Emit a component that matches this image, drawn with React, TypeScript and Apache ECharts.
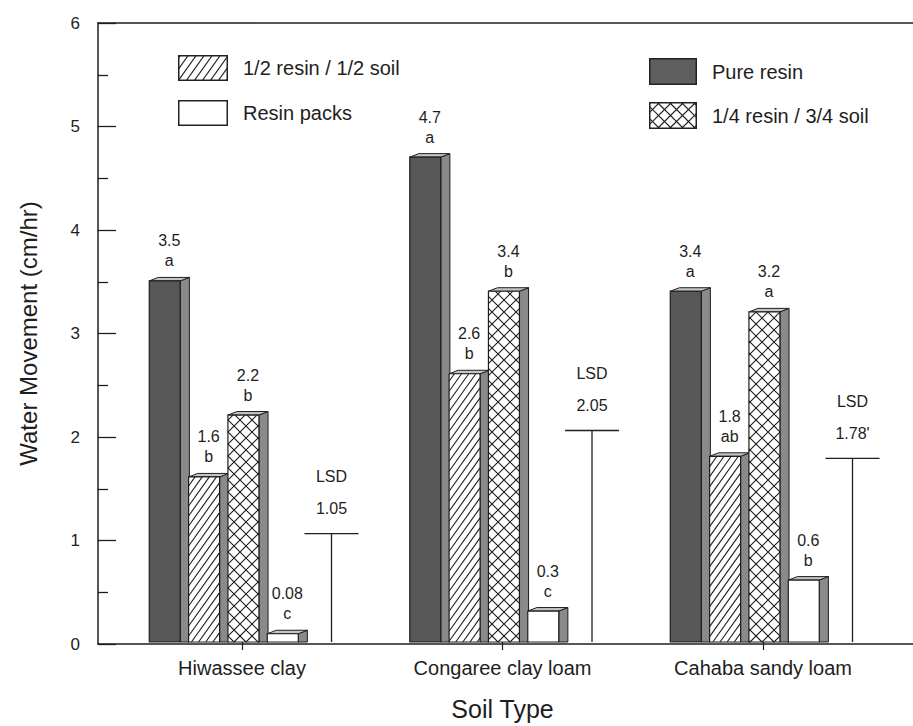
import React, { useEffect, useRef } from "react";
import * as echarts from "echarts";

// ---------------- data ----------------
const soils = ["Hiwassee clay", "Congaree clay loam", "Cahaba sandy loam"];
const seriesNames = ["Pure resin", "1/2 resin / 1/2 soil", "1/4 resin / 3/4 soil", "Resin packs"];
const pureResin = [3.5, 4.7, 3.4];
const halfResin = [1.6, 2.6, 1.8];
const quarterResin = [2.2, 3.4, 3.2];
const resinPacks = [0.08, 0.3, 0.6];
const pureLetters = ["a", "a", "a"];
const halfLetters = ["b", "b", "ab"];
const quarterLetters = ["b", "b", "a"];
const packsLetters = ["c", "c", "b"];
const lsdValues = [1.05, 2.05, 1.78];
const lsdLabels = ["1.05", "2.05", "1.78'"];
const yTicks = [0, 1, 2, 3, 4, 5, 6];

// ---------------- style ----------------
const FONT = '"Liberation Sans", Arial, Helvetica, sans-serif';
const INK = "#1e1e1e";
const SIDE = "#8a8a8a";
const TOPF = "#c4c4c4";
const PURE = "#575757";
const START = -0.356;
const PITCH = 0.151;
const FRONT = 0.119;
const DEPTH = 0.035;
const DY = 3.5;

const Hatch = echarts.graphic.extendShape({
  shape: { x: 0, y: 0, width: 0, height: 0, step: 10, slope: 1, dir: 1 },
  buildPath(ctx: any, s: any) {
    const x0 = s.x, x1 = s.x + s.width, y0 = s.y, y1 = s.y + s.height;
    const m = s.slope, st = s.step;
    if (s.width <= 0 || s.height <= 0) return;
    if (s.dir === 1) {
      const cMin = m * x0 + y0, cMax = m * x1 + y1;
      for (let c = Math.ceil(cMin / st) * st; c <= cMax; c += st) {
        const xa = Math.max(x0, (c - y1) / m);
        const xb = Math.min(x1, (c - y0) / m);
        if (xb > xa) {
          ctx.moveTo(xa, c - m * xa);
          ctx.lineTo(xb, c - m * xb);
        }
      }
    } else {
      const cMin = y0 - m * x1, cMax = y1 - m * x0;
      for (let c = Math.ceil(cMin / st) * st; c <= cMax; c += st) {
        const xa = Math.max(x0, (y0 - c) / m);
        const xb = Math.min(x1, (y1 - c) / m);
        if (xb > xa) {
          ctx.moveTo(xa, m * xa + c);
          ctx.lineTo(xb, m * xb + c);
        }
      }
    }
  },
});
echarts.graphic.registerShape("hatch", Hatch);

function svgIcon(w: number, h: number, sw: number, sh: number, kind: string) {
  let fill = "#ffffff";
  let lines = "";
  if (kind === "pure") fill = "#5e5e5e";
  if (kind === "half") {
    for (let c = -40; c < w + 40; c += 8) {
      lines += `<line x1="${c}" y1="${sh}" x2="${c + sh / 1.4}" y2="0"/>`;
    }
  }
  if (kind === "quarter") {
    for (let c = -40; c < w + 40; c += 12) {
      lines += `<line x1="${c}" y1="${sh}" x2="${c + sh}" y2="0"/>`;
      lines += `<line x1="${c}" y1="0" x2="${c + sh}" y2="${sh}"/>`;
    }
  }
  const svg =
    `<svg xmlns="http://www.w3.org/2000/svg" width="${w}" height="${h}" viewBox="0 0 ${w} ${h}">` +
    `<defs><clipPath id="c"><rect x="0.75" y="0.75" width="${sw - 1.5}" height="${sh - 1.5}"/></clipPath></defs>` +
    `<rect x="0.75" y="0.75" width="${sw - 1.5}" height="${sh - 1.5}" fill="${fill}" stroke="#222" stroke-width="1.5"/>` +
    `<g clip-path="url(#c)" stroke="#222" stroke-width="1.2">${lines}</g></svg>`;
  return "image://data:image/svg+xml;charset=utf-8," + encodeURIComponent(svg);
}

function makeBarRender(j: number, kind: string, letters: string[]) {
  return (params: any, api: any) => {
    const ci = api.value(0);
    const v = api.value(1);
    const base = api.coord([ci, 0]);
    const topP = api.coord([ci, v]);
    const bw = api.size([1, 0])[0];
    const x0 = base[0] + bw * START + j * bw * PITCH;
    const fw = bw * FRONT;
    const d = bw * DEPTH;
    const yb = base[1];
    const yt = topP[1];
    const children: any[] = [];
    children.push({
      type: "polygon",
      shape: { points: [[x0 + fw, yb], [x0 + fw, yt], [x0 + fw + d, yt - DY], [x0 + fw + d, yb]] },
      style: { fill: SIDE, stroke: INK, lineWidth: 1 },
    });
    children.push({
      type: "polygon",
      shape: { points: [[x0, yt], [x0 + d, yt - DY], [x0 + fw + d, yt - DY], [x0 + fw, yt]] },
      style: { fill: TOPF, stroke: INK, lineWidth: 1 },
    });
    children.push({
      type: "rect",
      shape: { x: x0, y: yt, width: fw, height: yb - yt },
      style: { fill: kind === "pure" ? PURE : "#ffffff", stroke: INK, lineWidth: 1.2 },
    });
    if (kind === "half") {
      children.push({
        type: "hatch",
        shape: { x: x0, y: yt, width: fw, height: yb - yt, step: 10, slope: 1.4, dir: 1 },
        style: { fill: "none", stroke: INK, lineWidth: 1.1 },
      });
    }
    if (kind === "quarter") {
      children.push({
        type: "hatch",
        shape: { x: x0, y: yt, width: fw, height: yb - yt, step: 12, slope: 1, dir: 1 },
        style: { fill: "none", stroke: INK, lineWidth: 1.1 },
      });
      children.push({
        type: "hatch",
        shape: { x: x0, y: yt, width: fw, height: yb - yt, step: 12, slope: 1, dir: -1 },
        style: { fill: "none", stroke: INK, lineWidth: 1.1 },
      });
    }
    const lx = x0 + (fw + d) / 2;
    children.push({
      type: "text",
      x: lx,
      y: yt - 40,
      style: { text: String(v), fill: INK, font: `16px ${FONT}`, align: "center", verticalAlign: "middle" },
    });
    children.push({
      type: "text",
      x: lx,
      y: yt - 20,
      style: { text: letters[params.dataIndex], fill: INK, font: `16px ${FONT}`, align: "center", verticalAlign: "middle" },
    });
    return { type: "group", children };
  };
}

function lsdRender(params: any, api: any) {
  const ci = api.value(0);
  const v = api.value(1);
  const base = api.coord([ci, 0]);
  const topP = api.coord([ci, v]);
  const bw = api.size([1, 0])[0];
  const x = base[0] + bw * 0.3436;
  const yt = topP[1];
  return {
    type: "group",
    children: [
      { type: "line", shape: { x1: x, y1: base[1], x2: x, y2: yt }, style: { stroke: INK, lineWidth: 1.3 } },
      { type: "line", shape: { x1: x - 27, y1: yt, x2: x + 27, y2: yt }, style: { stroke: INK, lineWidth: 1.3 } },
      {
        type: "text",
        x: x,
        y: yt - 25,
        style: { text: lsdLabels[params.dataIndex], fill: INK, font: `16px ${FONT}`, align: "center", verticalAlign: "middle" },
      },
      {
        type: "text",
        x: x,
        y: yt - 57,
        style: { text: "LSD", fill: INK, font: `16px ${FONT}`, align: "center", verticalAlign: "middle" },
      },
    ],
  };
}

const toData = (arr: number[]) => arr.map((v, i) => [i, v]);

export default function App() {
  const ref = useRef<HTMLDivElement>(null);
  useEffect(() => {
    if (!ref.current) return;
    const chart = echarts.init(ref.current, undefined, { renderer: "svg" });
    const axisLineStyle = { color: INK, width: 1.5 };
    const option: any = {
      animation: false,
      backgroundColor: "#ffffff",
      textStyle: { fontFamily: FONT },
      grid: [
        { left: 98, right: 0, top: 23, bottom: 82 },
        { left: 111.75, right: 19.75, top: 23, bottom: 82 },
      ],
      legend: [
        {
          left: 178,
          top: 55,
          orient: "vertical",
          itemWidth: 60,
          itemHeight: 26,
          itemGap: 19,
          padding: 0,
          selectedMode: false,
          textStyle: { fontSize: 20, color: INK, fontFamily: FONT },
          data: [
            { name: seriesNames[1], icon: svgIcon(60, 26, 50, 26, "half") },
            { name: seriesNames[3], icon: svgIcon(60, 26, 50, 26, "packs") },
          ],
        },
        {
          left: 649,
          top: 58,
          orient: "vertical",
          itemWidth: 58,
          itemHeight: 27,
          itemGap: 17,
          padding: 0,
          selectedMode: false,
          textStyle: { fontSize: 20, color: INK, fontFamily: FONT },
          data: [
            { name: seriesNames[0], icon: svgIcon(58, 27, 48, 27, "pure") },
            { name: seriesNames[2], icon: svgIcon(58, 27, 48, 27, "quarter") },
          ],
        },
      ],
      xAxis: [
        {
          type: "value",
          gridIndex: 0,
          min: 0,
          max: 1,
          position: "bottom",
          axisLine: { show: true, onZero: false, lineStyle: axisLineStyle },
          axisTick: { show: false },
          axisLabel: { show: false },
          splitLine: { show: false },
        },
        {
          type: "value",
          gridIndex: 0,
          min: 0,
          max: 1,
          position: "top",
          axisLine: { show: true, onZero: false, lineStyle: axisLineStyle },
          axisTick: { show: false },
          axisLabel: { show: false },
          splitLine: { show: false },
        },
        {
          type: "category",
          gridIndex: 1,
          data: soils,
          position: "bottom",
          axisLine: { show: false, onZero: false },
          axisTick: { show: true, alignWithLabel: true, length: 8, lineStyle: { color: INK, width: 1.2 } },
          axisLabel: { fontSize: 20, color: INK, margin: 16, fontFamily: FONT },
          splitLine: { show: false },
          name: "Soil Type",
          nameLocation: "middle",
          nameGap: 54,
          nameTextStyle: { fontSize: 25, color: INK, fontFamily: FONT },
        },
      ],
      yAxis: [
        {
          type: "value",
          gridIndex: 0,
          min: yTicks[0],
          max: yTicks[yTicks.length - 1],
          interval: 1,
          axisLine: { show: true, onZero: false, lineStyle: axisLineStyle },
          axisTick: { show: true, inside: true, length: 18, lineStyle: { color: INK, width: 1.3 } },
          minorTick: { show: true, splitNumber: 2, length: 10, lineStyle: { color: INK, width: 1.3 } },
          axisLabel: { fontSize: 17, color: INK, margin: 18, fontFamily: FONT },
          splitLine: { show: false },
          minorSplitLine: { show: false },
          name: "Water Movement (cm/hr)",
          nameLocation: "middle",
          nameRotate: 90,
          nameGap: 58,
          nameTextStyle: { fontSize: 24, color: INK, fontFamily: FONT },
        },
        { type: "value", gridIndex: 1, min: 0, max: 6, show: false },
      ],
      series: [
        {
          type: "custom",
          name: seriesNames[0],
          xAxisIndex: 2,
          yAxisIndex: 1,
          data: toData(pureResin),
          encode: { x: 0, y: 1 },
          renderItem: makeBarRender(0, "pure", pureLetters),
          itemStyle: { color: PURE },
        },
        {
          type: "custom",
          name: seriesNames[1],
          xAxisIndex: 2,
          yAxisIndex: 1,
          data: toData(halfResin),
          encode: { x: 0, y: 1 },
          renderItem: makeBarRender(1, "half", halfLetters),
          itemStyle: { color: "#ffffff" },
        },
        {
          type: "custom",
          name: seriesNames[2],
          xAxisIndex: 2,
          yAxisIndex: 1,
          data: toData(quarterResin),
          encode: { x: 0, y: 1 },
          renderItem: makeBarRender(2, "quarter", quarterLetters),
          itemStyle: { color: "#ffffff" },
        },
        {
          type: "custom",
          name: seriesNames[3],
          xAxisIndex: 2,
          yAxisIndex: 1,
          data: toData(resinPacks),
          encode: { x: 0, y: 1 },
          renderItem: makeBarRender(3, "packs", packsLetters),
          itemStyle: { color: "#ffffff" },
        },
        {
          type: "custom",
          name: "LSD",
          xAxisIndex: 2,
          yAxisIndex: 1,
          data: toData(lsdValues),
          encode: { x: 0, y: 1 },
          renderItem: lsdRender,
        },
      ],
    };
    chart.setOption(option);
    return () => chart.dispose();
  }, []);
  return (
    <div
      ref={ref}
      style={{ position: "fixed", left: 0, top: 0, width: 913, height: 726, background: "#ffffff" }}
    />
  );
}
